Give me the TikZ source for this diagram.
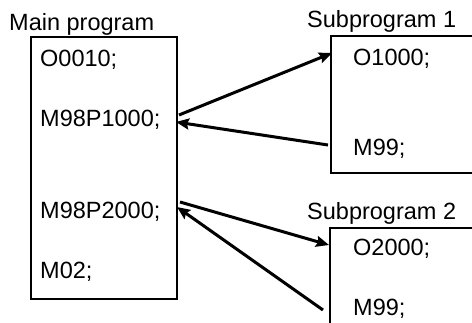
\documentclass[tikz,border=0pt]{standalone}
\usepackage{fontspec}
\setmainfont{Liberation Sans}
\usetikzlibrary{arrows.meta}
\begin{document}
\begin{tikzpicture}[x=1pt,y=-1pt,
  txt/.style={anchor=base west,inner sep=0pt,font=\fontsize{23.5}{28}\selectfont},
  box/.style={draw=black,line width=1.5pt},
  conn/.style={line width=3pt,-{Stealth[length=13pt,width=11pt,inset=2pt]}}]
\useasboundingbox (0,0) rectangle (472,322);
\clip (0,0) rectangle (472,322);
\fill[white] (0,0) rectangle (472,322);
% boxes
\draw[box] (31,37) rectangle (177,299);
\draw[box] (331,36) rectangle (490,173);
\draw[box] (330,228) rectangle (490,340);
% labels
\node[txt] (lmain) at (9,30.5) {Main program};
\node[txt] (lsub1) at (307,27) {Subprogram 1};
\node[txt] (lsub2) at (307,219) {Subprogram 2};
% main program lines
\node[txt] (m1) at (40,66) {O0010;};
\node[txt] (m2) at (40,126) {M98P1000;};
\node[txt] (m3) at (40,218) {M98P2000;};
\node[txt] (m4) at (40,278) {M02;};
% subprogram lines
\node[txt] (s1a) at (353,65) {O1000;};
\node[txt] (s1b) at (353,155) {M99;};
\node[txt] (s2a) at (353,255) {O2000;};
\node[txt] (s2b) at (353,315) {M99;};
% connector end points
\coordinate (c1s) at (179,115);
\coordinate (c1e) at (332,53);
\coordinate (c2s) at (328,145);
\coordinate (c2e) at (176,122);
\coordinate (c3s) at (180,202);
\coordinate (c3e) at (329,245);
\coordinate (c4s) at (323,310);
\coordinate (c4e) at (177,207);
\draw[conn] (c1s) -- (c1e);
\draw[conn] (c2s) -- (c2e);
\draw[conn] (c3s) -- (c3e);
\draw[conn] (c4s) -- (c4e);
\end{tikzpicture}
\end{document}
